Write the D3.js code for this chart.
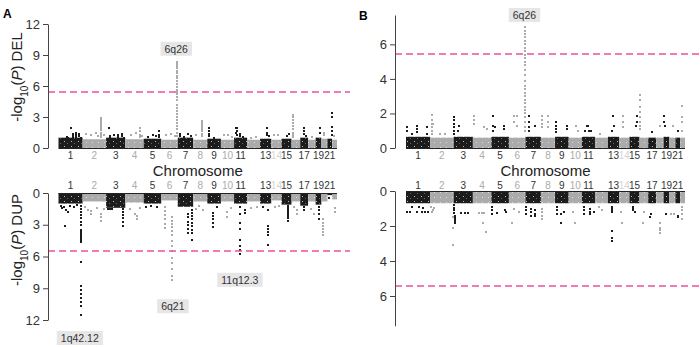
<!DOCTYPE html>
<meta charset="utf-8">
<style>
  body { margin: 0; background: #fff; }
  svg text { font-family: "Liberation Sans", Arial, sans-serif; }
</style>
<script src="https://d3js.org/d3.v7.min.js"></script>
<svg id="chart" width="700" height="347"></svg>
<script>
// chromosome sizes (Mb, hg19) and which tick labels are printed
var chromLengths = [249,243,198,191,181,171,159,146,141,136,135,134,115,107,103,90,81,78,59,63,48,51];
var shownChroms = [1,2,3,4,5,6,7,8,9,10,11,13,14,15,17,19,21];
var threshold = 5.45;

// height of the dense baseline block, one value per chromosome
var bandDelA = [1.0,0.85,1.0,0.85,0.9,0.8,1.0,0.8,0.9,0.8,1.0,0.8,0.9,0.8,0.9,0.8,1.0,0.8,1.0,0.9,0.9,0.8];
var bandDupA = [1.0,0.8,1.4,0.9,1.0,0.7,1.3,0.8,1.0,0.8,1.0,0.8,1.0,0.7,1.1,0.8,1.2,0.8,1.1,0.8,0.2,0.6];
var bandDelB = [0.65,0.6,0.65,0.6,0.65,0.6,0.65,0.6,0.65,0.6,0.65,0.6,0.65,0.6,0.65,0.6,0.6,0.6,0.65,0.6,0.6,0.6];
var bandDupB = [0.7,0.7,0.7,0.7,0.7,0.7,0.7,0.7,0.7,0.7,0.7,0.7,0.7,0.7,0.7,0.7,0.7,0.7,0.7,0.7,0.7,0.7];

// [chromosome, position Mb, -log10(P)]
var delPointsA = [
  [1,125,1.96],[1,150,1.4],[1,150,1.2],[1,150,1.0],[1,180,1.5],[1,180,1.3],[1,180,1.1],[1,210,1.4],[1,210,1.2],[1,235,1.0],[1,55,0.9],[1,85,1.1],[1,100,0.95],
  [2,40,1.4],[2,85,1.3],[2,135,1.5],[2,195,2.9],[2,195,2.7],[2,195,2.5],[2,195,2.3],[2,195,2.1],[2,195,1.9],[2,195,1.7],[2,195,1.5],[2,195,1.3],[2,195,1.1],[2,160,1.2],[2,225,1.3],
  [3,25,1.9],[3,40,1.2],[3,40,1.0],[3,80,1.3],[3,120,1.3],[3,120,1.1],[3,160,1.4],[3,160,1.2],[3,180,1.0],
  [4,55,1.3],[4,110,1.5],[4,150,1.9],[4,150,1.6],[4,150,1.3],[4,150,1.1],[4,175,1.2],
  [5,40,1.1],[5,95,1.3],[5,125,1.2],[5,155,1.6],[5,155,1.3],[5,155,1.1],
  [6,45,1.3],[6,100,1.4],[6,140,1.2],
  [6,168,8.3],[6,168,8.1],[6,168,7.9],[6,168,7.7],[6,168,7.5],[6,168,7.3],[6,168,7.0],[6,168,6.8],[6,168,6.5],[6,168,6.2],[6,168,5.9],[6,168,5.6],[6,168,5.4],[6,168,5.2],[6,168,4.9],[6,168,4.6],[6,168,4.2],[6,168,3.9],[6,168,3.6],[6,168,3.3],[6,168,3.0],[6,168,2.7],[6,168,2.4],[6,168,2.1],[6,168,1.8],[6,168,1.5],[6,168,1.2],
  [7,20,1.4],[7,20,1.2],[7,60,1.1],[7,110,1.4],[7,140,1.2],
  [8,30,1.3],[8,95,2.6],[8,95,2.4],[8,95,2.2],[8,95,2.0],[8,95,1.8],[8,95,1.6],[8,95,1.4],[8,95,1.2],
  [9,18,1.9],[9,18,1.6],[9,18,1.4],[9,18,1.2],[9,70,1.0],
  [10,30,1.3],[10,70,1.3],[10,110,1.1],
  [11,20,1.9],[11,20,1.5],[11,35,1.9],[11,35,1.6],[11,35,1.3],[11,60,1.4],[11,60,1.2],[11,90,1.1],
  [12,40,1.0],[12,90,1.1],
  [13,70,1.9],[13,70,1.5],[13,70,1.3],[13,90,1.2],
  [14,30,1.3],[14,70,1.3],
  [15,60,1.2],[15,80,1.4],
  [16,15,3.2],[16,15,3.0],[16,15,2.7],[16,15,2.4],[16,15,2.1],[16,15,1.8],[16,15,1.5],[16,15,1.3],[16,15,1.1],
  [17,40,1.9],[17,40,1.6],[17,40,1.4],[17,60,1.2],
  [18,40,1.1],
  [19,50,1.9],[19,50,1.5],
  [20,30,1.5],[20,30,1.3],
  [21,45,3.4],[21,45,3.0],[21,45,2.0],[21,45,1.6],[21,45,1.3],
  [22,20,1.2]
];
var dupPointsA = [
  [1,30,1.2],[1,40,1.4],[1,60,1.3],[1,70,3.1],[1,75,1.6],[1,100,1.8],[1,120,1.2],[1,160,1.3],[1,190,1.1],
  [1,228,1.2],[1,228,1.5],[1,228,1.8],[1,228,2.1],[1,228,2.4],[1,228,2.7],[1,228,3.0],[1,228,3.5],[1,228,3.65],[1,228,3.8],[1,228,4.0],[1,228,4.15],[1,228,4.3],[1,228,4.45],[1,228,4.6],
  [1,228,6.5],[1,228,8.8],[1,228,9.2],[1,228,9.5],[1,228,9.9],[1,228,10.3],[1,228,10.7],[1,228,11.5],
  [2,20,1.3],[2,60,1.6],[2,90,2.0],[2,90,1.7],[2,150,1.4],[2,190,2.6],[2,190,2.3],[2,190,2.0],[2,220,1.5],
  [3,20,1.5],[3,40,1.5],[3,60,1.5],[3,175,1.5],[3,175,1.8],[3,175,2.1],[3,175,2.4],[3,175,2.7],[3,175,3.1],
  [4,50,1.5],[4,100,2.0],[4,120,2.5],[4,120,2.2],[4,150,1.4],
  [5,20,1.3],[5,80,1.2],[5,140,1.3],
  [6,39,1.3],[6,39,1.7],[6,39,2.1],[6,39,2.5],[6,39,2.9],[6,39,3.3],
  [6,112,2.3],[6,112,2.6],[6,112,2.9],[6,112,3.2],[6,112,3.6],[6,112,4.0],[6,112,4.5],[6,112,5.0],[6,112,5.5],[6,112,6.1],[6,112,6.6],[6,112,7.2],[6,112,7.8],[6,112,8.2],
  [7,109,2.0],[7,109,2.3],[7,109,2.7],[7,109,3.0],[7,109,3.4],[7,109,3.8],
  [7,144,1.6],[7,144,1.9],[7,144,2.2],[7,144,2.5],[7,144,2.8],[7,144,3.1],[7,144,3.5],[7,144,3.8],[7,144,4.4],
  [8,30,1.5],[8,60,1.2],[8,100,1.6],
  [9,56,1.9],[9,56,2.2],[9,56,2.5],[9,56,2.8],[9,56,3.2],[9,100,1.3],
  [10,60,2.3],[10,60,1.8],[10,100,1.4],
  [11,64,1.3],[11,64,2.0],[11,64,2.8],[11,64,3.4],[11,64,4.4],[11,64,5.0],[11,64,5.4],[11,64,5.8],[11,110,1.6],[11,110,1.9],
  [12,40,1.4],[12,100,1.3],
  [13,85,1.6],[13,85,3.1],[13,85,3.4],[13,85,3.7],[13,85,4.0],[13,85,4.9],[13,30,1.3],
  [14,40,1.3],[14,80,1.2],
  [15,70,1.2],[15,70,1.4],[15,70,1.6],[15,70,1.8],[15,70,2.0],[15,70,2.2],[15,70,2.4],[15,70,2.6],
  [16,30,1.3],[16,60,2.0],[16,60,1.6],
  [17,40,1.3],[17,40,1.6],
  [18,30,1.5],[18,60,2.0],
  [19,30,1.3],[19,30,1.6],[19,30,2.0],[19,30,2.5],
  [20,20,2.5],[20,20,2.8],[20,20,3.1],[20,20,3.4],[20,20,3.7],[20,20,4.0],
  [21,20,0.5],
  [22,30,1.8],[22,30,1.4]
];
var delPointsB = [
  [1,10,1.2],[1,10,1.0],[1,110,1.3],[1,110,1.1],[1,110,0.9],[1,214,1.2],[1,214,0.8],[1,60,0.8],
  [2,15,1.9],[2,15,1.6],[2,15,1.4],[2,15,1.2],[2,15,1.0],[2,15,0.8],[2,30,1.4],[2,100,0.8],[2,150,0.8],
  [3,5,1.8],[3,5,1.6],[3,5,1.4],[3,5,1.2],[3,5,1.0],[3,5,0.8],[3,50,1.3],[3,60,1.3],[3,40,1.0],
  [4,12,1.85],[4,12,1.6],[4,12,1.4],[4,120,1.2],[4,150,1.1],
  [5,20,1.85],[5,20,1.3],[5,20,1.0],[5,37,1.2],[5,130,1.3],[5,130,1.1],
  [6,50,1.85],[6,80,1.85],[6,50,1.5],[6,80,1.3],
  [6,166,7.0],[6,166,6.8],[6,166,6.6],[6,166,6.4],[6,166,6.2],[6,166,6.0],[6,166,5.8],[6,166,5.6],[6,166,5.4],[6,166,5.2],[6,166,5.0],[6,166,4.8],[6,166,4.5],[6,166,4.2],[6,166,3.9],[6,166,3.6],[6,166,3.4],[6,166,3.2],[6,166,3.0],[6,166,2.8],[6,166,2.6],[6,166,2.4],[6,166,2.2],[6,166,2.0],[6,166,1.8],[6,166,1.5],[6,166,1.2],[6,166,1.0],
  [7,40,1.85],[7,40,1.5],[7,40,1.2],[7,40,1.0],[7,100,1.3],
  [8,8,1.85],[8,8,1.6],[8,8,1.4],[8,8,1.2],[8,77,1.85],[8,77,1.5],[8,77,1.2],
  [9,10,1.5],[9,10,1.3],[9,10,1.1],[9,10,0.9],[9,120,1.3],[9,120,1.1],
  [10,80,1.3],[10,100,1.0],
  [11,50,1.3],[11,60,1.3],[11,30,1.0],[11,70,1.0],[11,90,1.0],
  [12,50,0.8],
  [13,55,1.85],[13,65,1.3],[13,40,1.0],
  [14,37,1.85],[14,37,1.5],[14,37,1.2],
  [15,80,1.85],[15,80,1.5],[15,65,1.3],
  [16,5,3.07],[16,5,2.8],[16,5,2.4],[16,5,2.1],[16,5,1.8],[16,5,1.5],[16,5,1.3],[16,5,1.1],
  [17,40,0.9],
  [18,40,1.3],
  [19,5,1.85],[19,5,1.5],[19,15,1.3],
  [20,40,1.3],
  [21,30,1.0],
  [22,20,2.43],[22,20,1.8],[22,20,1.5],[22,20,1.0]
];
var dupPointsB = [
  [1,7,1.2],[1,41,1.2],[1,110,1.2],[1,162,1.2],[1,196,1.2],[1,227,1.2],[1,60,0.9],[1,130,0.9],[1,180,0.95],
  [2,5,0.9],[2,15,1.2],[2,30,1.1],[2,40,0.95],[2,238,2.13],[2,238,3.09],[2,238,1.5],
  [3,2,0.8],[3,4,0.95],[3,6,1.1],[3,8,1.25],[3,10,1.4],[3,12,1.5],[3,14,1.6],[3,16,1.7],[3,18,1.8],[3,80,1.25],[3,115,1.25],[3,150,1.25],
  [4,60,1.25],[4,90,1.25],[4,100,1.81],[4,135,2.36],[4,120,1.25],
  [5,10,0.9],[5,10,1.1],[5,10,1.3],[5,60,1.27],[5,140,1.1],[5,150,1.2],
  [6,30,1.81],[6,50,1.0],[6,100,1.2],
  [7,10,0.9],[7,10,1.1],[7,10,1.3],[7,60,1.0],[7,60,1.2],[7,60,1.45],[7,100,1.1],[7,100,1.3],[7,100,1.45],
  [8,10,1.0],[8,10,1.2],[8,10,1.4],[8,10,1.6],
  [9,20,0.9],[9,20,1.1],[9,20,1.3],[9,60,1.81],[9,60,1.3],[9,90,1.2],
  [10,60,1.81],[10,40,1.2],
  [11,20,0.9],[11,20,1.1],[11,20,1.3],[11,80,1.0],[11,80,1.2],[11,80,1.3],[11,120,1.2],
  [12,40,0.9],[12,70,1.1],
  [13,40,0.9],[13,40,1.0],[13,40,1.1],[13,40,1.2],[13,40,2.27],[13,40,2.7],[13,40,2.84],
  [14,30,1.81],[14,20,1.2],
  [15,40,0.9],[15,40,1.0],[15,40,1.1],[15,60,1.2],
  [16,40,1.81],[16,50,1.2],
  [17,20,1.5],[17,30,1.3],
  [18,40,1.81],[18,40,2.1],[18,40,2.25],[18,40,2.4],
  [19,20,1.3],
  [20,20,1.3],[20,50,1.3],
  [21,30,1.4],[21,30,1.5],
  [22,20,0.9],[22,20,1.1],[22,20,1.3],[22,20,1.6]
];

// region labels: [text, chromosome, Mb, -log10(P)] placed by the panel scales
var labelsDelA = [["6q26", 6, 155, 9.6]];
var labelsDupA = [["1q42.12", 1, 220, 13.7], ["6q21", 6, 120, 10.7], ["11q12.3", 11, 60, 8.2]];
var labelsDelB = [["6q26", 6, 160, 7.7]];

var chromStart = [];
var acc = 0;
chromLengths.forEach(function(l) { chromStart.push(acc); acc += l; });
var genomeLen = acc;

var svg = d3.select("#chart");
var black = "#1c1c1c", gray = "#ababab";

// speckled fills so the dense blocks look like packed points
var defs = svg.append("defs");
var pb = defs.append("pattern").attr("id", "speckB").attr("width", 7).attr("height", 5).attr("patternUnits", "userSpaceOnUse");
pb.append("rect").attr("width", 7).attr("height", 5).attr("fill", black);
pb.append("rect").attr("x", 1).attr("y", 1).attr("width", 1).attr("height", 1).attr("fill", "#bbb");
pb.append("rect").attr("x", 4).attr("y", 3).attr("width", 1).attr("height", 1).attr("fill", "#666");
var pg = defs.append("pattern").attr("id", "speckG").attr("width", 6).attr("height", 5).attr("patternUnits", "userSpaceOnUse");
pg.append("rect").attr("width", 6).attr("height", 5).attr("fill", gray);
pg.append("rect").attr("x", 2).attr("y", 2).attr("width", 1).attr("height", 1).attr("fill", "#dcdcdc");

function drawPanel(p) {
  var x = d3.scaleLinear().domain([0, genomeLen]).range([p.left, p.right]);
  var y = d3.scaleLinear().domain([0, p.max]).range([p.y0, p.y1]);
  var g = svg.append("g");

  // dense block near zero
  g.selectAll("rect.band").data(p.band).enter().append("rect")
    .attr("class", "band")
    .attr("x", function(d, i) { return x(chromStart[i]); })
    .attr("width", function(d, i) { return x(chromStart[i] + chromLengths[i]) - x(chromStart[i]); })
    .attr("y", function(d) { return Math.min(y(0), y(d)); })
    .attr("height", function(d) { return Math.abs(y(d) - y(0)); })
    .attr("fill", function(d, i) { return i % 2 == 0 ? "url(#speckB)" : "url(#speckG)"; });

  g.selectAll("rect.pt").data(p.points).enter().append("rect")
    .attr("class", "pt")
    .attr("x", function(d) { return Math.round(x(chromStart[d[0]-1] + d[1])) - 1; })
    .attr("y", function(d) { return Math.round(y(d[2])) - 1; })
    .attr("width", 2).attr("height", 2)
    .attr("fill", function(d) { return d[0] % 2 == 1 ? black : gray; });

  // baseline
  g.append("line")
    .attr("x1", p.left).attr("x2", p.right)
    .attr("y1", y(0) + 0.5).attr("y2", y(0) + 0.5)
    .attr("stroke", "#222").attr("stroke-width", 1);

  // threshold
  var ty = Math.round(y(threshold));
  g.append("line")
    .attr("x1", p.axisX).attr("x2", p.dashEnd)
    .attr("y1", ty).attr("y2", ty)
    .attr("stroke", "#f0509c").attr("stroke-width", 1.5)
    .attr("stroke-dasharray", "7,4");

  var axis = g.append("g")
    .attr("transform", "translate(" + p.axisX + ",0)")
    .call(d3.axisLeft(y).tickValues(p.ticks).tickSize(5).tickSizeOuter(0).tickPadding(3));
  axis.select(".domain").attr("stroke", "#444");
  axis.selectAll(".tick line").attr("stroke", "#444");
  axis.selectAll(".tick text").attr("fill", "#333").style("font-size", "13px");

  g.selectAll("text.chr").data(shownChroms).enter().append("text")
    .attr("class", "chr")
    .attr("x", function(c) { return x(chromStart[c-1] + chromLengths[c-1] / 2); })
    .attr("y", p.labelY)
    .attr("text-anchor", "middle")
    .style("font-size", "10px")
    .attr("fill", function(c) { return c == 14 ? "#d4d4d4" : (c % 2 == 1 ? "#333" : "#ababab"); })
    .text(function(c) { return c; });

  if (p.chromTitle) {
    g.append("text")
      .attr("x", (p.left + p.right) / 2).attr("y", p.chromTitle)
      .attr("text-anchor", "middle").style("font-size", "15px").attr("fill", "#222")
      .text("Chromosome");
  }

  if (p.title) {
    var t = g.append("text")
      .attr("transform", "translate(" + p.titleX + "," + p.titleY + ") rotate(-90)")
      .attr("text-anchor", "middle").style("font-size", "15px").attr("fill", "#222");
    t.append("tspan").text("-log");
    t.append("tspan").attr("baseline-shift", "sub").style("font-size", "10px").text("10");
    t.append("tspan").text("(");
    t.append("tspan").style("font-style", "italic").text("P");
    t.append("tspan").text(") " + p.title);
  }

  p.labels.forEach(function(l) {
    var lx = x(chromStart[l[1]-1] + l[2]), ly = y(l[3]);
    var txt = g.append("text")
      .attr("x", lx).attr("y", ly + 4)
      .attr("text-anchor", "middle").style("font-size", "10.5px").attr("fill", "#333")
      .text(l[0]);
    var bb = txt.node().getBBox();
    g.insert("rect", function() { return txt.node(); })
      .attr("x", bb.x - 4).attr("y", ly - 7)
      .attr("width", bb.width + 8).attr("height", 14)
      .attr("fill", "#e6e6e6");
  });
}

drawPanel({ left: 58.5, right: 337, axisX: 48, dashEnd: 350, y0: 148, y1: 24, max: 12,
  ticks: [0,3,6,9,12], band: bandDelA, points: delPointsA, labelY: 159, chromTitle: 176,
  title: "DEL", titleX: 22, titleY: 77, labels: labelsDelA });
drawPanel({ left: 58.5, right: 337, axisX: 48, dashEnd: 350, y0: 193, y1: 320, max: 12,
  ticks: [0,3,6,9,12], band: bandDupA, points: dupPointsA, labelY: 188.5, chromTitle: null,
  title: "DUP", titleX: 22, titleY: 240, labels: labelsDupA });
drawPanel({ left: 406, right: 685, axisX: 395, dashEnd: 700, y0: 148, y1: 15, max: 7.7,
  ticks: [0,2,4,6], band: bandDelB, points: delPointsB, labelY: 158.5, chromTitle: 176,
  title: null, labels: labelsDelB });
drawPanel({ left: 406, right: 685, axisX: 395, dashEnd: 700, y0: 191, y1: 325.75, max: 7.7,
  ticks: [0,2,4,6], band: bandDupB, points: dupPointsB, labelY: 188.5, chromTitle: null,
  title: null, labels: [] });

svg.append("text").attr("x", 3).attr("y", 18).style("font-size", "12px").style("font-weight", "bold").text("A");
svg.append("text").attr("x", 359).attr("y", 20).style("font-size", "12px").style("font-weight", "bold").text("B");
</script>
